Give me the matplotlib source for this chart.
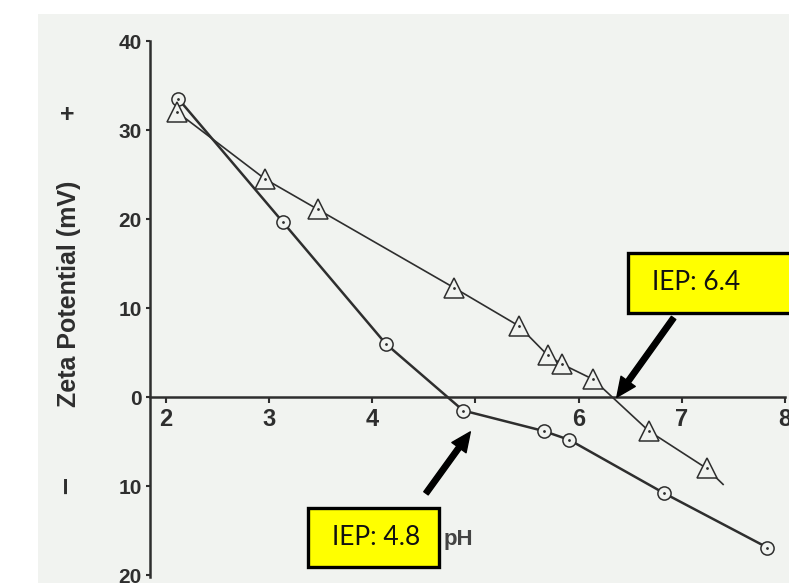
import matplotlib
matplotlib.use("Agg")
import matplotlib.pyplot as plt
from matplotlib.patches import Rectangle

# data
circle_ph = [2.12, 3.13, 4.13, 4.88, 5.66, 5.91, 6.83, 7.83]
circle_zeta = [33.5, 19.7, 6.0, -1.5, -3.8, -4.8, -10.8, -16.9]

triangle_ph = [2.11, 2.96, 3.47, 4.79, 5.42, 5.70, 5.84, 6.14, 6.68, 7.24]
triangle_zeta = [32.0, 24.5, 21.1, 12.3, 8.0, 4.7, 3.7, 2.0, -3.8, -8.0]
# the triangle line runs a bit past the last point
triangle_tail_ph = 7.40
triangle_tail_zeta = -9.8

x_ticks = [2, 3, 4, 5, 6, 7, 8]
x_tick_labels = ["2", "3", "4", "", "6", "7", "8"]   # the "5" is hidden in the scan
y_ticks = [40, 30, 20, 10, 0, -10, -20]
y_tick_labels = ["40", "30", "20", "10", "0", "10", "20"]

iep_high = 6.37
iep_low = 4.95

ink = "#2e2e2e"
paper = "#f1f3f0"

plt.rcParams['font.family'] = ['Liberation Sans', 'DejaVu Sans']

fig = plt.figure(figsize=(7.89, 5.83), dpi=100)
fig.patch.set_facecolor("white")
# scanned page background
fig.patches.append(Rectangle((38/789, 0), 1 - 38/789, (583-14)/583,
                             transform=fig.transFigure, facecolor=paper,
                             edgecolor="none", zorder=-1))

ax = fig.add_axes([150/789, 1 - 577/583, 635/789, 536/583])
ax.set_facecolor("none")
ax.set_xlim(1.845, 8.0)
ax.set_ylim(-20.2, 40)

ax.plot(circle_ph, circle_zeta, color=ink, lw=1.8, zorder=2)
ax.plot(triangle_ph + [triangle_tail_ph], triangle_zeta + [triangle_tail_zeta],
        color=ink, lw=1.2, zorder=2)
ax.plot(circle_ph, circle_zeta, ls="none", marker="o", ms=9.5, mfc=paper,
        mec=ink, mew=1.1, zorder=3)
ax.plot(triangle_ph, triangle_zeta, ls="none", marker="^", ms=14, mfc=paper,
        mec=ink, mew=1.1, zorder=3)
ax.plot(circle_ph, circle_zeta, ls="none", marker=".", ms=2, color=ink, zorder=4)
ax.plot(triangle_ph, triangle_zeta, ls="none", marker=".", ms=2, color=ink, zorder=4)

ax.spines['right'].set_color('none')
ax.spines['top'].set_color('none')
ax.spines['bottom'].set_position(('data', 0))
ax.spines['bottom'].set_linewidth(1.8)
ax.spines['left'].set_linewidth(1.8)
ax.spines['bottom'].set_color(ink)
ax.spines['left'].set_color(ink)

ax.set_xticks(x_ticks)
ax.set_xticklabels(x_tick_labels, fontsize=17, fontweight="bold", color=ink)
ax.set_yticks(y_ticks)
ax.set_yticklabels(y_tick_labels, fontsize=15, fontweight="bold", color=ink)
ax.tick_params(axis="x", direction="out", length=4, width=1.5, pad=4, color=ink)
ax.tick_params(axis="y", direction="out", length=3, width=1.5, pad=3, color=ink)

# axis labels and signs
fig.text(69/789, 1 - 294/583, "Zeta Potential (mV)", rotation=90, ha="center",
         va="center", fontsize=18, fontweight="bold", color=ink)
fig.text(67/789, 1 - 115/583, "+", ha="center", va="center", fontsize=18,
         fontweight="bold", color=ink)
fig.text(66/789, 1 - 486/583, "\u2013", rotation=90, ha="center", va="center",
         fontsize=22, fontweight="bold", color=ink)
fig.text(444/789, 1 - 540/583, "pH", ha="left", va="center", fontsize=16,
         fontweight="bold", color="#444444")

# IEP call-outs
arrow = dict(arrowstyle="simple,head_width=0.9,head_length=1.0,tail_width=0.28",
             mutation_scale=14, color="black", shrinkA=0, shrinkB=0)
ax.annotate("", xy=(iep_high, 0), xytext=(6.92, 8.9), arrowprops=arrow, zorder=5)
ax.annotate("", xy=(iep_low, -3.9), xytext=(4.52, -10.8), arrowprops=arrow, zorder=5)

for (x0, y0, x1, y1), label, tx in [((628, 253, 792, 313), "IEP: 6.4", 652),
                                   ((308, 508, 439, 567), "IEP: 4.8", 332)]:
    fig.patches.append(Rectangle((x0/789, 1 - y1/583), (x1 - x0)/789, (y1 - y0)/583,
                                 transform=fig.transFigure, facecolor="#ffff00",
                                 edgecolor="black", lw=2.4, zorder=6))
    fig.text(tx/789, 1 - (y0 + y1)/2/583, label, ha="left", va="center",
             fontsize=19, family=["Lato", "DejaVu Sans"], color="#111111", zorder=7)

fig.savefig("out.png", dpi=100)
